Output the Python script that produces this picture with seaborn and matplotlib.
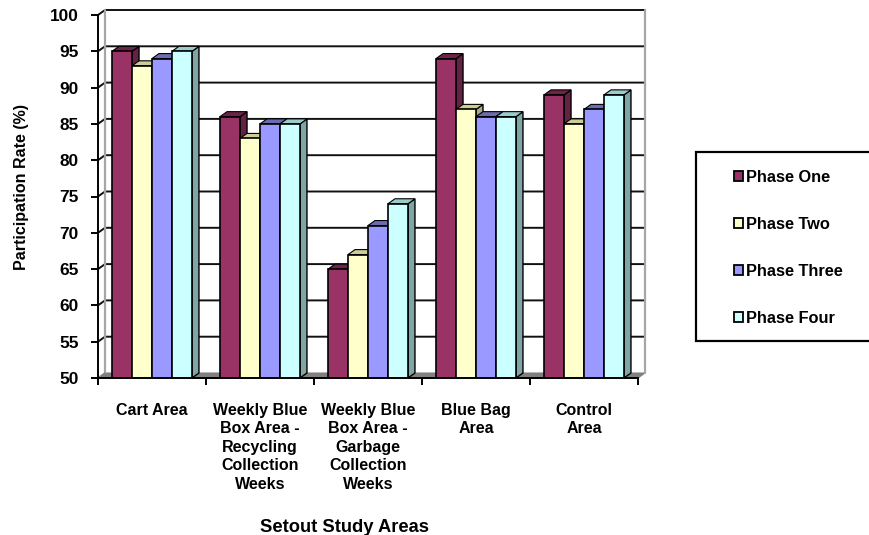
#!/usr/bin/env python
"""Setout study participation rates, faked 3D columns"""
import numpy as np
import pandas as pd
import seaborn as sns
import matplotlib

matplotlib.use("Agg")
import matplotlib.pyplot as plt
from matplotlib.patches import Polygon, Rectangle

areas = [
    "Cart Area",
    "Weekly Blue\nBox Area -\nRecycling\nCollection\nWeeks",
    "Weekly Blue\nBox Area -\nGarbage\nCollection\nWeeks",
    "Blue Bag\nArea",
    "Control\nArea",
]
phases = ["Phase One", "Phase Two", "Phase Three", "Phase Four"]
phase_one = [95, 86, 65, 94, 89]
phase_two = [93, 83, 67, 87, 85]
phase_three = [94, 85, 71, 86, 87]
phase_four = [95, 85, 74, 86, 89]
y_ticks = list(range(50, 101, 5))

front_colors = ["#993366", "#FFFFCC", "#9999FF", "#CCFFFF"]
top_colors = ["#6E2449", "#CCCC99", "#6B6BB3", "#99CCCC"]
side_colors = ["#662244", "#AAAA88", "#666699", "#7FA5A5"]

sns.set_theme(style="white")
plt.rcParams["font.family"] = ["Liberation Sans", "DejaVu Sans"]
plt.rcParams["font.weight"] = "bold"

df = pd.DataFrame(
    {
        "area": areas * 4,
        "phase": np.repeat(phases, 5),
        "rate": phase_one + phase_two + phase_three + phase_four,
    }
)

W, H = 870, 535
fig = plt.figure(figsize=(W / 100, H / 100), dpi=100)
ax = fig.add_axes([98 / W, 1 - 378 / H, 540 / W, 363 / H])

sns.barplot(
    data=df,
    x="area",
    y="rate",
    hue="phase",
    order=areas,
    hue_order=phases,
    palette=front_colors,
    width=0.74,
    gap=0,
    saturation=1,
    edgecolor="black",
    linewidth=1.2,
    ax=ax,
)
ax.set_xlim(-0.5, 4.5)
ax.set_ylim(50, 100)

# depth of the fake 3D, in data units
dx = 7 / 108.0
dy = 5 / 7.26
x0, x1 = -0.5, 4.5

# floor and walls
ax.add_patch(
    Polygon(
        [(x0, 50), (x0 + dx, 50 + dy), (x1 + dx, 50 + dy), (x1, 50)],
        fc="#808080",
        ec="#808080",
        lw=0.8,
        clip_on=False,
        zorder=0.5,
    )
)
for v in y_ticks[1:]:
    ax.plot(
        [x0, x0 + dx, x1 + dx],
        [v, v + dy, v + dy],
        color="#111111",
        lw=1.4,
        clip_on=False,
        zorder=1,
    )
ax.plot(
    [x0 + dx, x0 + dx], [50 + dy, 100 + dy], color="#A6A6A6", lw=1.6, clip_on=False, zorder=1
)
ax.plot(
    [x1 + dx, x1 + dx], [50 + dy, 100 + dy], color="#A6A6A6", lw=1.6, clip_on=False, zorder=1
)
ax.plot([x0, x0 + dx], [50, 50 + dy], color="#808080", lw=1, clip_on=False, zorder=1)

# sides and tops of the columns, later phases paint over earlier ones
for i, container in enumerate(ax.containers):
    for bar in container:
        bar.set_zorder(3 + i)
        left, right = bar.get_x(), bar.get_x() + bar.get_width()
        top = bar.get_height()
        ax.add_patch(
            Polygon(
                [(right, 50), (right + dx, 50 + dy), (right + dx, top + dy), (right, top)],
                fc=side_colors[i],
                ec="black",
                lw=1.0,
                clip_on=False,
                zorder=2.5 + i,
            )
        )
        ax.add_patch(
            Polygon(
                [(left, top), (left + dx, top + dy), (right + dx, top + dy), (right, top)],
                fc=top_colors[i],
                ec="black",
                lw=0.8,
                clip_on=False,
                zorder=2.5 + i,
            )
        )

sns.despine(ax=ax)
for side in ["left", "bottom"]:
    ax.spines[side].set_linewidth(1.4)
    ax.spines[side].set_color("black")
    ax.spines[side].set_zorder(10)

ax.set_yticks(y_ticks)
ax.set_xticks(np.arange(-0.5, 5), minor=True)
ax.tick_params(axis="y", length=5, width=1.4, color="black", left=True, pad=9, labelsize=12.4)
ax.tick_params(axis="x", which="major", length=0, pad=18, labelsize=11.5)
ax.tick_params(axis="x", which="minor", length=5, width=1.4, color="black", bottom=True)
for lab in ax.get_xticklabels():
    lab.set_linespacing(1.29)
    lab.set_va("top")
for lab in ax.get_xticklabels() + ax.get_yticklabels():
    lab.set_color("black")

ax.set_ylabel("Participation Rate (%)", fontsize=11.5, fontweight="bold", color="black")
ax.yaxis.set_label_coords((29 - 98) / 540.0, (378 - 187) / 363.0)
ax.set_xlabel("Setout Study Areas", fontsize=13.2, fontweight="bold", color="black")
ax.xaxis.set_label_coords((345 - 98) / 540.0, -(519 - 378) / 363.0)

# legend box runs off the right edge of the figure
fig.add_artist(
    Rectangle(
        (696 / W, 1 - 341 / H),
        200 / W,
        189 / H,
        transform=fig.transFigure,
        fc="white",
        ec="black",
        lw=1.6,
    )
)
handles, labels = ax.get_legend_handles_labels()
ax.get_legend().remove()
leg = fig.legend(
    handles,
    labels,
    loc="center left",
    bbox_to_anchor=(719 / W, 1 - 248 / H),
    frameon=False,
    fontsize=11.8,
    handlelength=0.55,
    handleheight=0.55,
    handletextpad=0.2,
    labelspacing=1.96,
)
for h in leg.legend_handles:
    h.set_edgecolor("black")
    h.set_linewidth(1.3)
for t in leg.get_texts():
    t.set_color("black")

fig.savefig("out.png", dpi=100)
